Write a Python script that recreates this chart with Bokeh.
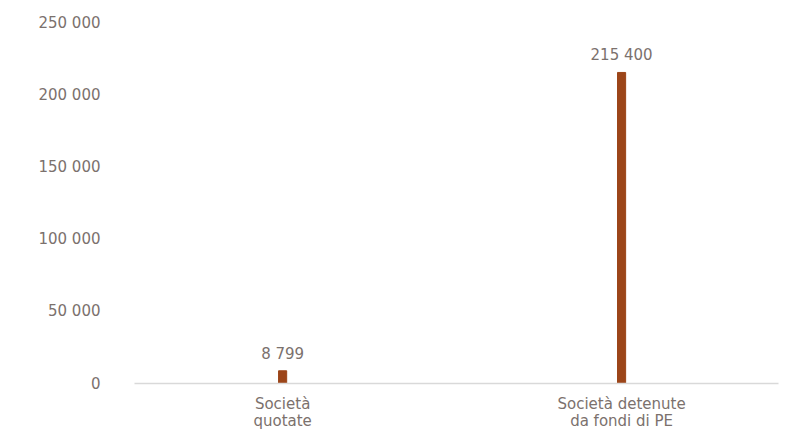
from bokeh.plotting import figure
from bokeh.models import Range1d, FixedTicker, ColumnDataSource
from bokeh.embed import file_html
from bokeh.resources import INLINE
from bokeh.core.properties import value

categories = ["Società\nquotate", "Società detenute\nda fondi di PE"]
values = [8799, 215400]
y_ticks = [0, 50000, 100000, 150000, 200000, 250000]

def fmt(v):
    return f"{v:,}".replace(",", " ")

xs = list(range(len(categories)))
src = ColumnDataSource(dict(x=xs, top=values, lab=[fmt(v) for v in values]))

FONT = "DejaVu Sans"
FS = "15px"
TXT = "#7b716d"
BAR = "#9c4519"

p = figure(width=792, height=432, output_backend="svg", toolbar_location=None,
           x_range=Range1d(-0.437, 1.463), y_range=Range1d(0, 250000),
           min_border_left=134, min_border_right=14, min_border_top=22, min_border_bottom=49)
p.outline_line_color = None
p.grid.grid_line_color = None

p.vbar(x="x", top="top", width=0.024, color=BAR, source=src)
p.text(x="x", y="top", text="lab", source=src, text_align="center", text_baseline="bottom",
       y_offset=-8, text_font=value(FONT), text_font_size=FS, text_color=TXT)

ya = p.yaxis[0]
ya.ticker = FixedTicker(ticks=y_ticks)
ya.major_label_overrides = {t: fmt(t) for t in y_ticks}
ya.axis_line_color = None
ya.major_tick_line_color = None
ya.minor_tick_line_color = None
ya.major_label_standoff = 28
ya.major_label_text_font = FONT
ya.major_label_text_font_size = FS
ya.major_label_text_color = TXT

xa = p.xaxis[0]
xa.ticker = FixedTicker(ticks=xs)
xa.major_label_overrides = {x: c for x, c in zip(xs, categories)}
xa.axis_line_color = "#d9d9d9"
xa.axis_line_width = 1.5
xa.major_tick_line_color = None
xa.minor_tick_line_color = None
xa.major_label_standoff = 5
xa.major_label_text_font = FONT
xa.major_label_text_font_size = FS
xa.major_label_text_color = TXT
xa.major_label_text_line_height = 0.95

open("out.html", "w").write(file_html(p, INLINE))
